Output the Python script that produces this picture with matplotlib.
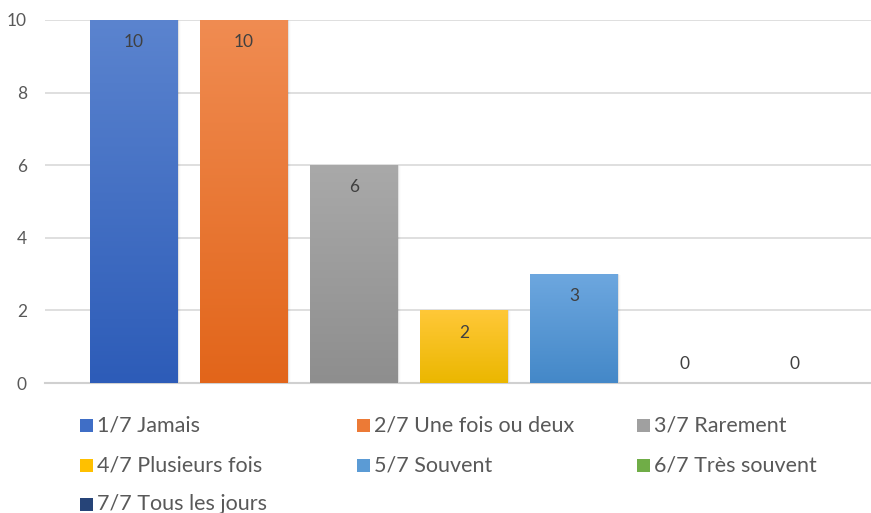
import numpy as np
import matplotlib
matplotlib.use("Agg")
import matplotlib.pyplot as plt
from matplotlib.patches import Rectangle
from matplotlib.colors import LinearSegmentedColormap

plt.rcParams['font.family'] = ['Lato', 'DejaVu Sans']

categories = ["1/7 Jamais", "2/7 Une fois ou deux", "3/7 Rarement",
              "4/7 Plusieurs fois", "5/7 Souvent", "6/7 Très souvent",
              "7/7 Tous les jours"]
values = [10, 10, 6, 2, 3, 0, 0]
# (top, bottom) gradient colours for each series
colors_top = ["#5B84CF", "#F08C52", "#A9A9A9", "#FFC838", "#6DA7DF", "#7CBE58", "#2F4A86"]
colors_bottom = ["#2D5CB8", "#E2651A", "#8E8E8E", "#EBB700", "#4488C8", "#5EA13C", "#1F3A74"]
legend_colors = ["#3F6EC6", "#EC7A36", "#A0A0A0", "#FFC000", "#5B9BD5", "#70AD47", "#264478"]

yticks = [0, 2, 4, 6, 8, 10]

fig = plt.figure(figsize=(8.71, 5.13), dpi=100)
ax = fig.add_axes([45 / 871, 130 / 513, 826 / 871, 363 / 513])

x = np.arange(len(categories))
bar_w = 0.8
text_col = "#404040"

for xi, v, ct, cb in zip(x, values, colors_top, colors_bottom):
    if v > 0:
        # soft shadow around the right edge of the bar
        for k, a in enumerate([0.05, 0.035, 0.02, 0.01]):
            sh = Rectangle((xi - bar_w / 2 + 0.006 * (k + 1), 0), bar_w, v - 0.01 * k,
                           facecolor="#000000", edgecolor="none", alpha=a, zorder=2)
            ax.add_patch(sh)
        rect = Rectangle((xi - bar_w / 2, 0), bar_w, v, facecolor="none",
                         edgecolor="none", zorder=3)
        ax.add_patch(rect)
        cmap = LinearSegmentedColormap.from_list("g", [cb, ct])
        grad = np.linspace(0, 1, 256).reshape(-1, 1)
        im = ax.imshow(grad, cmap=cmap, origin="lower", aspect="auto",
                       extent=(xi - bar_w / 2, xi + bar_w / 2, 0, v), zorder=3)
        im.set_clip_path(rect)
        ax.annotate(str(v), (xi, v), xytext=(0, -16), textcoords="offset points",
                    ha="center", va="center", fontsize=12.5, color=text_col, zorder=5)
    else:
        ax.annotate(str(v), (xi, v), xytext=(0, 14), textcoords="offset points",
                    ha="center", va="center", fontsize=12.5, color=text_col, zorder=5)

ax.set_xlim(-0.81, 6.7)
ax.set_ylim(0, 10)
ax.set_yticks(yticks)
ax.set_yticklabels([str(t) for t in yticks], fontsize=12.5, color="#595959")
ax.set_xticks([])
ax.tick_params(axis="y", length=0, pad=13)
ax.grid(axis="y", color="#D9D9D9", linewidth=1.2, zorder=0)
ax.set_axisbelow(True)
for s in ["top", "right", "left"]:
    ax.spines[s].set_visible(False)
ax.spines["bottom"].set_color("#D0D0D0")
ax.spines["bottom"].set_linewidth(1.5)

# legend laid out in three columns under the plot
col_x = [80 / 871, 357 / 871, 637 / 871]
row_y = [1 - 425 / 513, 1 - 465 / 513, 1 - 504 / 513]
for i, (lab, col) in enumerate(zip(categories, legend_colors)):
    cx = col_x[i % 3]
    ry = row_y[i // 3]
    fig.patches.append(Rectangle((cx, ry - 7 / 513), 13 / 871, 13 / 513,
                                 facecolor=col, edgecolor="none",
                                 transform=fig.transFigure, figure=fig))
    fig.text(cx + 17 / 871, ry, lab, fontsize=15.5, color="#595959",
             ha="left", va="center")

fig.savefig("out.png", dpi=100)
